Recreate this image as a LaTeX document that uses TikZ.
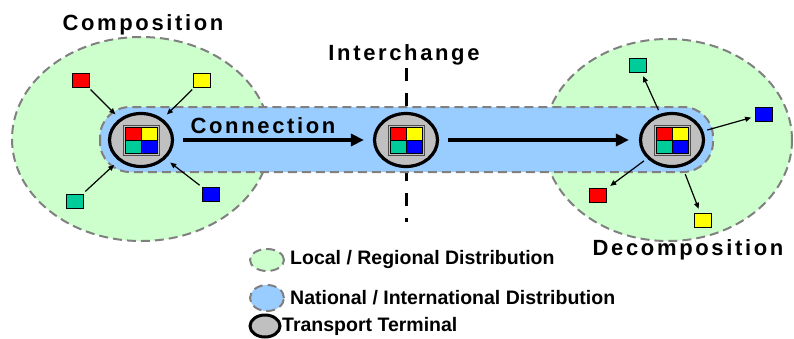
\documentclass[tikz,border=0pt]{standalone}
\usepackage{fontspec}
\setmainfont{Liberation Sans}
\newfontfamily\ttlfont{Liberation Sans}[LetterSpace=12]
\usetikzlibrary{arrows.meta,shapes.geometric}
\definecolor{lgreen}{RGB}{204,255,204}
\definecolor{lblue}{RGB}{153,204,255}
\definecolor{dgray}{RGB}{128,128,128}
\definecolor{tgray}{RGB}{192,192,192}
\definecolor{cred}{RGB}{255,0,0}
\definecolor{cyel}{RGB}{255,255,0}
\definecolor{cteal}{RGB}{0,204,153}
\definecolor{cblue}{RGB}{0,0,255}
\tikzset{
  region/.style={draw=dgray, line width=2pt, dash pattern=on 9pt off 5pt},
  local/.style={region, fill=lgreen, ellipse},
  terminal/.style={ellipse, draw=black, line width=3.2pt, fill=tgray, minimum width=63pt, minimum height=53pt, inner sep=0pt},
  cargo/.style={rectangle, draw=black, line width=1pt, minimum width=17pt, minimum height=14pt, inner sep=0pt},
  sarrow/.style={draw=black, line width=1.2pt, -{Triangle[length=6pt,width=5pt]}},
  marrow/.style={draw=black, line width=3.5pt, -{Triangle[length=13pt,width=12pt]}},
  title/.style={font=\ttlfont\bfseries\fontsize{22}{24}\selectfont},
  legtext/.style={font=\bfseries\fontsize{19.5}{21}\selectfont, anchor=west, inner sep=0pt},
}
\newcommand\cellgrid[1]{%
  \begin{scope}[shift={(#1)}]
    \filldraw[fill=tgray, draw=black!70, line width=0.8pt] (-18,-15) rectangle (18,15);
    \filldraw[fill=cred, draw=black, line width=0.5pt] (-16,-13) rectangle (0,0);
    \filldraw[fill=cyel, draw=black, line width=0.5pt] (0,-13) rectangle (16,0);
    \filldraw[fill=cteal, draw=black, line width=0.5pt] (-16,0) rectangle (0,13);
    \filldraw[fill=cblue, draw=black, line width=0.5pt] (0,0) rectangle (16,13);
  \end{scope}}
\begin{document}
\begin{tikzpicture}[x=1pt, y=-1pt]
\useasboundingbox (0,0) rectangle (794,338);
% local regions
\node[local, minimum width=258pt, minimum height=204pt] (gl) at (141,139) {};
\node[local, minimum width=248pt, minimum height=202pt] (gr) at (668,140) {};
% interchange line
\coordinate (ic1) at (406,68);
\coordinate (ic2) at (406,222);
\draw[line width=3pt, dash pattern=on 13pt off 12pt] (ic1) -- (ic2);
% national band
\filldraw[region, fill=lblue, rounded corners=30pt] (100,107) rectangle (713,172);
% terminals
\node[terminal] (t1) at (141,140) {};
\node[terminal] (t2) at (406,140) {};
\node[terminal] (t3) at (672,140) {};
\cellgrid{t1.center}
\cellgrid{t2.center}
\cellgrid{t3.center}
% main arrows
\draw[marrow, shorten <=9pt, shorten >=9pt] (t1.east) -- (t2.west);
\draw[marrow, shorten <=9pt, shorten >=10pt] (t2.east) -- (t3.west);
% left cargo
\node[cargo, fill=cred] (lr) at (81,80) {};
\node[cargo, fill=cyel] (ly) at (202,80) {};
\node[cargo, fill=cteal] (lt) at (75,201) {};
\node[cargo, fill=cblue] (lb) at (211,194) {};
\draw[sarrow, shorten <=3pt, shorten >=6pt] (lr) -- (t1);
\draw[sarrow, shorten <=3pt, shorten >=6pt] (ly) -- (t1);
\draw[sarrow, shorten <=3pt, shorten >=6pt] (lt) -- (t1);
\draw[sarrow, shorten <=3pt, shorten >=6pt] (lb) -- (t1);
% right cargo
\node[cargo, fill=cteal] (rt) at (638,65) {};
\node[cargo, fill=cblue] (rb) at (764,114) {};
\node[cargo, fill=cred] (rr) at (598,195) {};
\node[cargo, fill=cyel] (ry) at (703,220) {};
\draw[sarrow, shorten <=4pt, shorten >=4pt] (t3) -- (rt);
\draw[sarrow, shorten <=4pt, shorten >=4pt] (t3) -- (rb);
\draw[sarrow, shorten <=4pt, shorten >=4pt] (t3) -- (rr);
\draw[sarrow, shorten <=8pt, shorten >=4pt] (t3) -- (ry);
% titles
\node[title] (lcomp) at (143,25) {Composition};
\node[title] (linter) at (404,55) {Interchange};
\node[title] (lconn) at (263,126) {Connection};
\node[title] (ldec) at (688,250) {Decomposition};
% legend
\node[region, fill=lgreen, ellipse, minimum width=34pt, minimum height=22pt, inner sep=0pt] (kg) at (267,260) {};
\node[region, fill=lblue, ellipse, minimum width=34pt, minimum height=26pt, inner sep=0pt] (kb) at (267,298) {};
\node[ellipse, draw=black, line width=3pt, fill=tgray, minimum width=30pt, minimum height=22pt, inner sep=0pt] (kt) at (265,326) {};
\node[legtext] (tg) at (290,259) {Local / Regional Distribution};
\node[legtext] (tb) at (290,298) {National / International Distribution};
\node[legtext] (tt) at (282,326) {Transport Terminal};
\end{tikzpicture}
\end{document}
